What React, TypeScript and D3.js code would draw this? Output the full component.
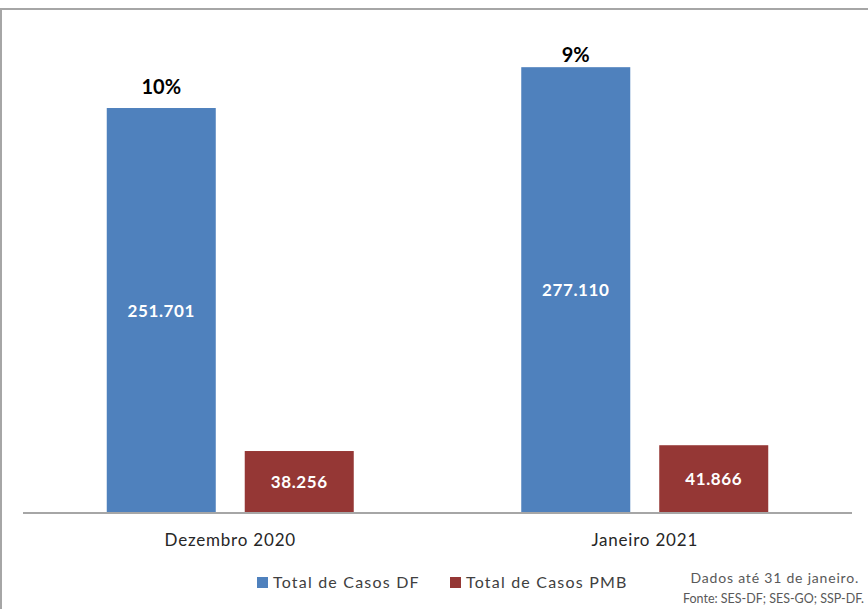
import React from "react";
import * as d3 from "d3";

const categories = ["Dezembro 2020", "Janeiro 2021"];
const seriesNames = ["Total de Casos DF", "Total de Casos PMB"];
const casosDF = [251701, 277110];
const casosPMB = [38256, 41866];
const percentLabels = ["10%", "9%"];
const noteLines = ["Dados até 31 de janeiro.", "Fonte: SES-DF; SES-GO; SSP-DF."];

const W = 868;
const H = 609;
const FONT = "Lato, 'Open Sans', sans-serif";
const COLORS = ["#4F81BD", "#953735"];
const pctGap = [14, 5];
const noteEnd = [859, 864];
const noteSize = [14, 12.5];
const noteSpacing = [0.8, 0];
const noteY = [583, 603];

const fmt = (v: number) => d3.format(",")(v).replace(/,/g, ".");

export default function App() {
  const x0 = d3.scaleBand<string>().domain(categories).range([23, 852]).padding(0);
  const x1 = d3
    .scaleBand<string>()
    .domain(seriesNames)
    .range([0, x0.bandwidth()])
    .paddingInner(0.21)
    .paddingOuter(0.607);
  const y = d3.scaleLinear().domain([0, 300000]).range([512.5, 30.4]);
  const seriesValues = [casosDF, casosPMB];

  return (
    <svg
      width={W}
      height={H}
      style={{ position: "absolute", left: 0, top: 0, background: "#fff" }}
      fontFamily={FONT}
    >
      <rect x={0} y={0} width={W} height={H} fill="#fff" />
      {/* frame */}
      <line x1={0} y1={9} x2={W} y2={9} stroke="#a6a6a6" strokeWidth={2} />
      <line x1={1} y1={9} x2={1} y2={H} stroke="#a6a6a6" strokeWidth={2} />

      {categories.map((c, ci) =>
        seriesNames.map((s, si) => {
          const v = seriesValues[si][ci];
          const bx = (x0(c) ?? 0) + (x1(s) ?? 0);
          const bw = x1.bandwidth();
          const top = y(v);
          return (
            <g key={c + s}>
              <rect x={bx} y={top} width={bw} height={y(0) - top} fill={COLORS[si]} />
              <text
                x={bx + bw / 2}
                y={(top + y(0)) / 2}
                textAnchor="middle"
                dominantBaseline="central"
                fill="#fff"
                fontWeight="bold"
                fontSize={17}
                letterSpacing={0.6}
              >
                {fmt(v)}
              </text>
            </g>
          );
        })
      )}

      {categories.map((c, ci) => {
        const bx = (x0(c) ?? 0) + (x1(seriesNames[0]) ?? 0) + x1.bandwidth() / 2;
        return (
          <text
            key={"p" + c}
            x={bx}
            y={y(casosDF[ci]) - pctGap[ci]}
            textAnchor="middle"
            fontWeight="bold"
            fontSize={20}
            fill="#000"
          >
            {percentLabels[ci]}
          </text>
        );
      })}

      <line x1={23} y1={513} x2={852} y2={513} stroke="#a6a6a6" strokeWidth={2} />

      {categories.map((c) => (
        <text
          key={"c" + c}
          x={(x0(c) ?? 0) + x0.bandwidth() / 2}
          y={546}
          textAnchor="middle"
          fontSize={17}
          letterSpacing={0.8}
          fill="#262626"
        >
          {c}
        </text>
      ))}

      {seriesNames.map((s, si) => {
        const lx = [257, 450][si];
        return (
          <g key={"l" + s}>
            <rect x={lx} y={577} width={11} height={11} fill={COLORS[si]} />
            <text x={lx + 16} y={588} fontSize={16} letterSpacing={1.2} fill="#404040">
              {s}
            </text>
          </g>
        );
      })}

      {noteLines.map((t, i) => (
        <text
          key={"n" + i}
          x={noteEnd[i]}
          y={noteY[i]}
          textAnchor="end"
          fontSize={noteSize[i]}
          letterSpacing={noteSpacing[i]}
          fill="#595959"
        >
          {t}
        </text>
      ))}
    </svg>
  );
}
